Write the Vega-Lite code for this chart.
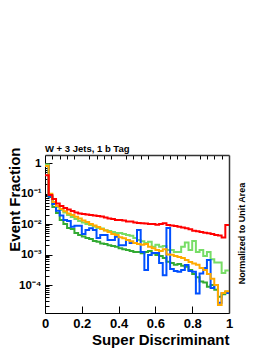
{
  "$schema": "https://vega.github.io/schema/vega-lite/v6.json",
  "width": 184,
  "height": 158,
  "autosize": "none",
  "padding": {"left": 45, "top": 155, "right": 41, "bottom": 36},
  "background": "white",
  "config": {
    "view": {"stroke": null},
    "font": "Liberation Sans",
    "axis": {"grid": false}
  },
  "title": {"text": "W + 3 Jets, 1 b Tag", "anchor": "start", "frame": "group", "fontSize": 9.5, "fontWeight": "bold", "font": "Liberation Sans", "offset": -6, "color": "black"},
  "data": {"values": [
    {"x": 0.00, "red": 0.4, "orange": 0.8, "lightgreen": 0.9, "green": 0.85, "blue": 0.8},
    {"x": 0.02, "red": 0.089, "orange": 0.098, "lightgreen": 0.083, "green": 0.077, "blue": 0.08},
    {"x": 0.04, "red": 0.066, "orange": 0.053, "lightgreen": 0.049, "green": 0.036, "blue": 0.045},
    {"x": 0.06, "red": 0.047, "orange": 0.039, "lightgreen": 0.036, "green": 0.023, "blue": 0.027},
    {"x": 0.08, "red": 0.039, "orange": 0.031, "lightgreen": 0.029, "green": 0.0135, "blue": 0.019},
    {"x": 0.10, "red": 0.0335, "orange": 0.026, "lightgreen": 0.024, "green": 0.010, "blue": 0.0135},
    {"x": 0.12, "red": 0.030, "orange": 0.022, "lightgreen": 0.0197, "green": 0.0074, "blue": 0.0125},
    {"x": 0.14, "red": 0.0267, "orange": 0.0197, "lightgreen": 0.0169, "green": 0.0069, "blue": 0.0082},
    {"x": 0.16, "red": 0.0238, "orange": 0.0174, "lightgreen": 0.0146, "green": 0.0051, "blue": 0.0088},
    {"x": 0.18, "red": 0.0221, "orange": 0.0151, "lightgreen": 0.0126, "green": 0.0044, "blue": 0.0088},
    {"x": 0.20, "red": 0.0213, "orange": 0.013, "lightgreen": 0.0112, "green": 0.0039, "blue": 0.0047},
    {"x": 0.22, "red": 0.0205, "orange": 0.0116, "lightgreen": 0.010, "green": 0.0035, "blue": 0.0064},
    {"x": 0.24, "red": 0.0197, "orange": 0.010, "lightgreen": 0.0093, "green": 0.0032, "blue": 0.0072},
    {"x": 0.26, "red": 0.019, "orange": 0.0089, "lightgreen": 0.0083, "green": 0.0028, "blue": 0.0064},
    {"x": 0.28, "red": 0.0183, "orange": 0.0080, "lightgreen": 0.0074, "green": 0.0026, "blue": 0.0035},
    {"x": 0.30, "red": 0.0176, "orange": 0.0069, "lightgreen": 0.0071, "green": 0.0023, "blue": 0.0044},
    {"x": 0.32, "red": 0.0163, "orange": 0.0061, "lightgreen": 0.0063, "green": 0.0022, "blue": 0.0044},
    {"x": 0.34, "red": 0.0151, "orange": 0.0055, "lightgreen": 0.0059, "green": 0.0020, "blue": 0.0030},
    {"x": 0.36, "red": 0.0146, "orange": 0.0047, "lightgreen": 0.0055, "green": 0.0019, "blue": 0.0030},
    {"x": 0.38, "red": 0.0135, "orange": 0.0044, "lightgreen": 0.0051, "green": 0.0018, "blue": 0.0038},
    {"x": 0.40, "red": 0.0135, "orange": 0.0037, "lightgreen": 0.0051, "green": 0.0016, "blue": 0.0020},
    {"x": 0.42, "red": 0.013, "orange": 0.0034, "lightgreen": 0.0047, "green": 0.0015, "blue": 0.0020},
    {"x": 0.44, "red": 0.0121, "orange": 0.0030, "lightgreen": 0.0044, "green": 0.0014, "blue": 0.0030},
    {"x": 0.46, "red": 0.0121, "orange": 0.0027, "lightgreen": 0.0041, "green": 0.0013, "blue": 0.0024},
    {"x": 0.48, "red": 0.0112, "orange": 0.0024, "lightgreen": 0.0035, "green": 0.0012, "blue": 0.0024},
    {"x": 0.50, "red": 0.0108, "orange": 0.0022, "lightgreen": 0.0030, "green": 0.0012, "blue": 0.0064},
    {"x": 0.52, "red": 0.0105, "orange": 0.0021, "lightgreen": 0.0027, "green": 0.0011, "blue": 0.0012},
    {"x": 0.54, "red": 0.0104, "orange": 0.0022, "lightgreen": 0.0024, "green": 0.0012, "blue": 0.00031},
    {"x": 0.56, "red": 0.0100, "orange": 0.0018, "lightgreen": 0.0026, "green": 0.0013, "blue": 0.00096},
    {"x": 0.58, "red": 0.0100, "orange": 0.0016, "lightgreen": 0.0018, "green": 0.0011, "blue": 0.00112},
    {"x": 0.60, "red": 0.0095, "orange": 0.0014, "lightgreen": 0.0021, "green": 0.00096, "blue": 0.00112},
    {"x": 0.62, "red": 0.0100, "orange": 0.0013, "lightgreen": 0.0018, "green": 0.00089, "blue": 0.00053},
    {"x": 0.64, "red": 0.0105, "orange": 0.0015, "lightgreen": 0.0019, "green": 0.00077, "blue": 0.00021},
    {"x": 0.66, "red": 0.0093, "orange": 0.0010, "lightgreen": 0.0014, "green": 0.00058, "blue": 0.0074},
    {"x": 0.68, "red": 0.0089, "orange": 0.00099, "lightgreen": 0.0014, "green": 0.00053, "blue": 0.000335},
    {"x": 0.70, "red": 0.0086, "orange": 0.00089, "lightgreen": 0.0012, "green": 0.00046, "blue": 0.00029},
    {"x": 0.72, "red": 0.0082, "orange": 0.00083, "lightgreen": 0.0012, "green": 0.00049, "blue": 0.00027},
    {"x": 0.74, "red": 0.0077, "orange": 0.00077, "lightgreen": 0.0018, "green": 0.00043, "blue": 0.00031},
    {"x": 0.76, "red": 0.0072, "orange": 0.00066, "lightgreen": 0.0025, "green": 0.0004, "blue": 0.00045},
    {"x": 0.78, "red": 0.0067, "orange": 0.00057, "lightgreen": 0.0014, "green": 0.00031, "blue": 0.00029},
    {"x": 0.80, "red": 0.0060, "orange": 0.00051, "lightgreen": 0.0028, "green": 0.00023, "blue": 0.00027},
    {"x": 0.82, "red": 0.0058, "orange": 0.00046, "lightgreen": 0.0012, "green": 0.00018, "blue": 0.000053},
    {"x": 0.84, "red": 0.0055, "orange": 0.00036, "lightgreen": 0.0014, "green": 0.00013, "blue": 0.00024},
    {"x": 0.86, "red": 0.0052, "orange": 0.00031, "lightgreen": 0.0009, "green": 0.00012, "blue": 0.00036},
    {"x": 0.88, "red": 0.0050, "orange": 0.00023, "lightgreen": 0.0012, "green": 0.000088, "blue": 0.00066},
    {"x": 0.90, "red": 0.0047, "orange": 0.00016, "lightgreen": 0.0007, "green": 0.0001, "blue": 0.00008},
    {"x": 0.92, "red": 0.0044, "orange": 0.0001, "lightgreen": 0.00055, "green": 0.00007, "blue": 0.0001},
    {"x": 0.94, "red": 0.0042, "orange": 0.000022, "lightgreen": 0.00055, "green": 0.000041, "blue": 0.000026},
    {"x": 0.96, "red": 0.0036, "orange": 0.000055, "lightgreen": 0.00025, "green": 0.00005, "blue": 0.000055},
    {"x": 0.98, "red": 0.0093, "orange": 0.000063, "lightgreen": 0.0003, "green": 0.00006, "blue": 0.000055},
    {"x": 1.00, "red": 0.0093, "orange": 0.000063, "lightgreen": 0.0003, "green": 0.00006, "blue": 0.000055}
  ]},
  "transform": [{"fold": ["green", "lightgreen", "blue", "orange", "red"], "as": ["series", "fraction"]}],
  "layer": [
    {
      "mark": {"type": "line", "interpolate": "step-after", "strokeWidth": 2, "clip": true},
      "encoding": {
        "x": {
          "field": "x", "type": "quantitative",
          "scale": {"domain": [0, 1], "nice": false, "zero": false},
          "axis": {
            "values": [0, 0.2, 0.4, 0.6, 0.8, 1],
            "format": ".1~f",
            "tickSize": -7, "tickColor": "black", "domainColor": "black",
            "labelFont": "Liberation Sans", "labelFontWeight": "bold", "labelFontSize": 13, "labelColor": "black",
            "labelPadding": 11, "labelFlush": false, "labelOverlap": false, "labelBound": false,
            "title": "Super Discriminant", "titleFont": "Liberation Sans", "titleFontSize": 15, "titleFontWeight": "bold", "titleColor": "black",
            "titleAlign": "right", "titleAnchor": "end", "titleX": 184, "titleY": 31, "titleBaseline": "alphabetic"
          }
        },
        "y": {
          "field": "fraction", "type": "quantitative",
          "scale": {"type": "log", "domain": [0.0000121, 1.83], "nice": false},
          "axis": {
            "values": [0.0001, 0.001, 0.01, 0.1, 1],
            "labelExpr": "['1','10⁻¹','10⁻²','10⁻³','10⁻⁴','10⁻⁵'][-round(log(datum.value)/LN10)]",
            "tickSize": -7, "tickColor": "black", "domainColor": "black",
            "labelFont": "Liberation Sans", "labelFontWeight": "bold", "labelFontSize": 11.5, "labelColor": "black",
            "labelPadding": 11, "labelOverlap": false, "labelBound": false, "labelFlush": false,
            "title": "Event Fraction", "titleFont": "Liberation Sans", "titleFontSize": 15, "titleFontWeight": "bold", "titleColor": "black",
            "titleAngle": 270, "titleAlign": "right", "titleAnchor": "end", "titleX": -26, "titleY": -8, "titleBaseline": "alphabetic"
          }
        },
        "color": {
          "field": "series", "type": "nominal",
          "scale": {"domain": ["red", "orange", "lightgreen", "green", "blue"], "range": ["#ff0000", "#ffaa00", "#77dd66", "#33aa33", "#0050ff"]},
          "legend": null
        }
      }
    },
    {
      "mark": {"type": "line", "opacity": 0},
      "encoding": {
        "x": {
          "field": "x", "type": "quantitative",
          "axis": {"values": [0.04,0.08,0.12,0.16,0.24,0.28,0.32,0.36,0.44,0.48,0.52,0.56,0.64,0.68,0.72,0.76,0.84,0.88,0.92,0.96], "tickSize": -4, "tickColor": "black", "labels": false, "domain": false, "title": null, "grid": false}
        },
        "y": {
          "field": "fraction", "type": "quantitative",
          "axis": {
            "orient": "right", "labels": false, "ticks": false, "domain": true, "domainColor": "#333333", "domainWidth": 1.5, "grid": false,
            "title": "Normalized to Unit Area", "titleFont": "Liberation Sans", "titleFontSize": 9, "titleFontWeight": "bold", "titleColor": "black",
            "titleAngle": 270, "titleAlign": "center", "titleX": 15, "titleY": 78, "titleBaseline": "alphabetic"
          }
        },
        "detail": {"field": "series"}
      }
    },
    {
      "mark": {"type": "line", "opacity": 0},
      "encoding": {
        "x": {
          "field": "x", "type": "quantitative",
          "axis": {"orient": "top", "labels": false, "ticks": false, "domain": true, "domainColor": "#333333", "domainWidth": 1.5, "title": null, "grid": false}
        },
        "y": {
          "field": "fraction", "type": "quantitative",
          "axis": {
            "orient": "left",
            "values": [2e-5,3e-5,4e-5,5e-5,6e-5,7e-5,8e-5,9e-5,2e-4,3e-4,4e-4,5e-4,6e-4,7e-4,8e-4,9e-4,0.002,0.003,0.004,0.005,0.006,0.007,0.008,0.009,0.02,0.03,0.04,0.05,0.06,0.07,0.08,0.09,0.2,0.3,0.4,0.5,0.6,0.7,0.8,0.9],
            "tickSize": -4, "tickColor": "black", "labels": false, "domain": false, "title": null, "grid": false
          }
        },
        "detail": {"field": "series"}
      }
    }
  ],
  "resolve": {"axis": {"x": "independent", "y": "independent"}}
}
